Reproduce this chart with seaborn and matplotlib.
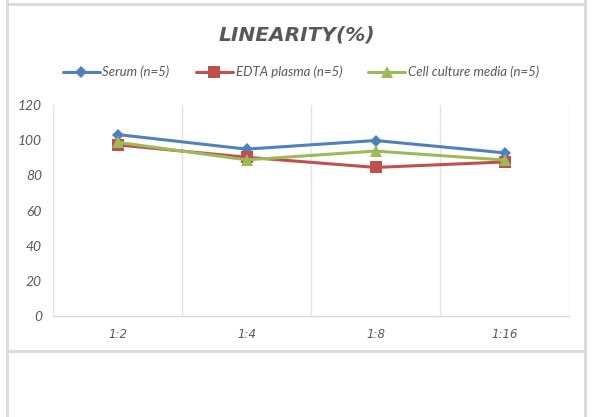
import matplotlib
matplotlib.use("Agg")
import matplotlib.pyplot as plt
from matplotlib.lines import Line2D
import seaborn as sns
import pandas as pd

categories = ["1:2", "1:4", "1:8", "1:16"]
serum = [103.2, 94.9, 99.8, 92.8]
edta = [97.3, 90.3, 84.5, 87.6]
cell = [98.8, 88.8, 93.8, 88.7]
series_names = ["Serum (n=5)", "EDTA plasma (n=5)", "Cell culture media (n=5)"]
y_ticks = [0, 20, 40, 60, 80, 100, 120]

rows = []
for name, vals in zip(series_names, [serum, edta, cell]):
    for i, (c, v) in enumerate(zip(categories, vals)):
        rows.append({"pos": i, "cat": c, "value": v, "series": name})
df = pd.DataFrame(rows)

sns.set_theme(style="white")
plt.rcParams["font.family"] = ["Lato", "DejaVu Sans"]

W, H = 592, 417
fig = plt.figure(figsize=(W / 100, H / 100), dpi=100)
ax = fig.add_axes([53 / W, (H - 316) / H, (569 - 53) / W, (316 - 105) / H])

palette = {series_names[0]: "#4F81BD", series_names[1]: "#C0504D", series_names[2]: "#9BBB59"}
markers = {series_names[0]: "D", series_names[1]: "s", series_names[2]: "^"}
sizes = {series_names[0]: 6, series_names[1]: 8, series_names[2]: 8}

for name in series_names:
    sub = df[df["series"] == name]
    sns.lineplot(data=sub, x="pos", y="value", ax=ax, color=palette[name],
                 marker=markers[name], markersize=sizes[name], markeredgewidth=0,
                 linewidth=2.2, label=name, legend=False, zorder=3)

ax.set_xlim(-0.5, len(categories) - 0.5)
ax.set_ylim(0, 120)
ax.set_yticks(y_ticks)
ax.set_xticks(range(len(categories)))
ax.set_xticklabels(categories)
ax.set_xlabel("")
ax.set_ylabel("")
for x in [i - 0.5 for i in range(len(categories) + 1)]:
    ax.axvline(x, color="#E3E3E3", linewidth=1, zorder=1)
for s in ["top", "left", "right"]:
    ax.spines[s].set_visible(False)
ax.spines["bottom"].set_color("#D9D9D9")
ax.spines["bottom"].set_linewidth(1)
ax.tick_params(axis="both", length=0, colors="#595959")
ax.tick_params(axis="y", pad=8, labelsize=10)
ax.tick_params(axis="x", pad=9, labelsize=8.5)
for lab in ax.get_yticklabels():
    lab.set_fontstyle("italic")
for lab in ax.get_xticklabels():
    lab.set_fontstyle("italic")
    lab.set_family(["DejaVu Sans"])

handles = [Line2D([0], [0], color=palette[n], marker=markers[n], markersize=sizes[n],
                  markeredgewidth=0, linewidth=2.2) for n in series_names]
leg = fig.legend(handles, series_names, loc="center", bbox_to_anchor=(301 / W, 1 - 72 / H),
                 ncol=3, frameon=False, prop={"style": "italic", "size": 9.5},
                 handlelength=2.8, handletextpad=0.2, columnspacing=2.0)
for t in leg.get_texts():
    t.set_color("#595959")

fig.text(297 / W, 1 - 35 / H, "LINEARITY(%)", ha="center", va="center", fontsize=14.5,
         fontweight="bold", fontstyle="italic", color="#595959",
         family=["DejaVu Sans"])

bc = "#D9D9D9"
fig.add_artist(Line2D([7 / W, 7 / W], [0, 1], transform=fig.transFigure, color=bc, lw=2))
fig.add_artist(Line2D([585 / W, 585 / W], [0, 1], transform=fig.transFigure, color=bc, lw=2))
fig.add_artist(Line2D([7 / W, 585 / W], [1 - 4 / H, 1 - 4 / H], transform=fig.transFigure, color=bc, lw=2))
fig.add_artist(Line2D([7 / W, 585 / W], [1 - 351 / H, 1 - 351 / H], transform=fig.transFigure, color=bc, lw=2))

fig.savefig("out.png", dpi=100, facecolor="white")
